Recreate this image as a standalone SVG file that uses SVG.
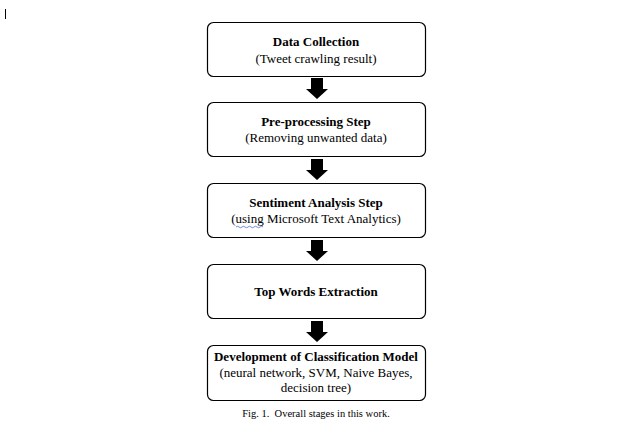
<svg xmlns="http://www.w3.org/2000/svg" width="630" height="439" viewBox="0 0 630 439">
<style>
.box{fill:#fff;stroke:#000;stroke-width:1.2}
.t{font-family:"Liberation Serif","Times New Roman",serif;font-size:13px;fill:#000;text-anchor:middle}
.b{font-weight:bold}
.arr{fill:#000}
.cap{font-family:"Liberation Serif","Times New Roman",serif;font-size:10.5px;fill:#000;text-anchor:middle}
</style>
<defs>
<path id="arrow" d="M-6,0 H6 V11 H11 L0,21 L-11,11 H-6 Z"/>
</defs>
<rect x="0" y="0" width="630" height="439" fill="#fff"/>
<line x1="5.5" y1="9" x2="5.5" y2="19" stroke="#000" stroke-width="1"/>
<g id="connectors">
<use href="#arrow" class="arr" x="317" y="78"/>
<use href="#arrow" class="arr" x="317" y="159"/>
<use href="#arrow" class="arr" x="317" y="240"/>
<use href="#arrow" class="arr" x="317" y="321"/>
</g>
<g id="n1">
<rect class="box" x="207.5" y="22.5" width="218" height="54" rx="6"/>
<text class="t b" x="316" y="46">Data Collection</text>
<text class="t" x="316" y="63">(Tweet crawling result)</text>
</g>
<g id="n2">
<rect class="box" x="207.5" y="102.5" width="218" height="54" rx="6"/>
<text class="t b" x="316" y="126">Pre-processing Step</text>
<text class="t" x="316" y="142">(Removing unwanted data)</text>
</g>
<g id="n3">
<rect class="box" x="207.5" y="183.5" width="218" height="54" rx="6"/>
<text class="t b" x="316" y="207">Sentiment Analysis Step</text>
<text class="t" x="316" y="223">(using Microsoft Text Analytics)</text>
<path d="M236,227 q1.5,-1.5 3,0 t3,0 t3,0 t3,0 t3,0 t3,0 t3,0 t3,0 t3,0" fill="none" stroke="#4a6fd0" stroke-width="0.8"/>
</g>
<g id="n4">
<rect class="box" x="207.5" y="264.5" width="218" height="54" rx="6"/>
<text class="t b" x="316" y="296">Top Words Extraction</text>
</g>
<g id="n5">
<rect class="box" x="207.5" y="345.5" width="218" height="55" rx="6"/>
<text class="t b" x="316" y="361">Development of Classification Model</text>
<text class="t" x="316" y="377">(neural network, SVM, Naive Bayes,</text>
<text class="t" x="316" y="392">decision tree)</text>
</g>
<text class="cap" x="316" y="417" xml:space="preserve">Fig. 1.  Overall stages in this work.</text>
</svg>
